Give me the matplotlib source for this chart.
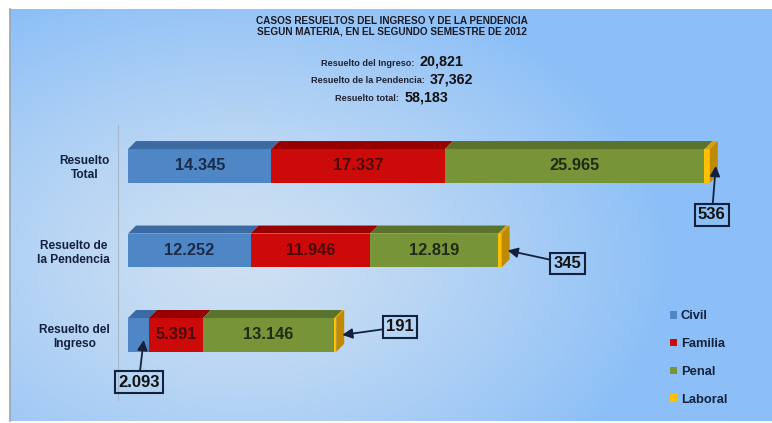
import matplotlib
matplotlib.use("Agg")
import matplotlib.pyplot as plt
import numpy as np
from matplotlib.patches import Polygon
from matplotlib.lines import Line2D
from matplotlib.offsetbox import TextArea, HPacker, AnnotationBbox

# datos
categorias = ["Resuelto del\nIngreso", "Resuelto de\nla Pendencia", "Resuelto\nTotal"]
materias = ["Civil", "Familia", "Penal", "Laboral"]
civil = [2093, 12252, 14345]
familia = [5391, 11946, 17337]
penal = [13146, 12819, 25965]
laboral = [191, 345, 536]

titulo = ("CASOS RESUELTOS DEL INGRESO Y DE LA PENDENCIA\n"
          "SEGUN MATERIA, EN EL SEGUNDO SEMESTRE DE 2012")
resumen_etiquetas = ["Resuelto del Ingreso:", "Resuelto de la Pendencia:", "Resuelto total:"]
resumen_valores = ["20,821", "37,362", "58,183"]

# estilo
FONT = "Liberation Sans"
plt.rcParams["font.family"] = [FONT, "DejaVu Sans"]
col_frente = ["#4f86c6", "#cc0a0a", "#779438", "#ffc000"]
col_arriba = ["#3c6aa3", "#980000", "#5a722b", "#d9a200"]
col_lado = "#c08a00"
col_texto = ["#1c2b4a", "#4a0808", "#1f2b14"]
navy = "#14213d"
alto = 0.40
dx = 800      # profundidad en unidades de x
dy = 0.095    # profundidad en unidades de y

W, H = 772, 423
fig = plt.figure(figsize=(W / 100, H / 100), dpi=100)
fig.patch.set_facecolor("white")

# fondo degradado
bg = fig.add_axes([10 / W, 2 / H, 762 / W, 412 / H])
bg.set_axis_off()
yy, xx = np.mgrid[0:412, 0:762]
t = np.sqrt(((xx - 230) / 430.0) ** 2 + ((yy - 250) / 290.0) ** 2)
t = np.clip(t, 0, 1) ** 1.3
claro = np.array([0.81, 0.88, 0.95])
borde = np.array([0.55, 0.75, 0.97])
img = claro[None, None, :] * (1 - t[..., None]) + borde[None, None, :] * t[..., None]
bg.imshow(img, aspect="auto", interpolation="bilinear")
fig.add_artist(Line2D([10 / W, 10 / W], [2 / H, 1 - 9 / H], color="#9aa4ae", lw=1.2))

# ejes principales
ax = fig.add_axes([118 / W, 1 - 400 / H, (760 - 118) / W, (400 - 125) / H])
ax.patch.set_alpha(0)
ax.set_xlim(-1000, 63200)
ax.set_ylim(-0.77, 2.485)
for s in ["top", "right", "bottom"]:
    ax.spines[s].set_visible(False)
ax.spines["left"].set_color("#aab8c6")
ax.spines["left"].set_linewidth(0.8)
ax.set_xticks([])
ax.set_yticks(range(len(categorias)), categorias)
ax.tick_params(axis="y", length=0, pad=6)
for lbl in ax.get_yticklabels():
    lbl.set_multialignment("center")
    lbl.set_fontsize(8.6)
    lbl.set_fontweight("bold")
    lbl.set_color(navy)

series = [civil, familia, penal, laboral]
y = np.arange(len(categorias))
izq = np.zeros(len(categorias))
barras = []
for i, vals in enumerate(series):
    b = ax.barh(y, vals, left=izq, height=alto, color=col_frente[i], zorder=2,
                label=materias[i])
    barras.append(b)
    for j, v in enumerate(vals):
        l, r = izq[j], izq[j] + v
        top = y[j] + alto / 2
        ax.add_patch(Polygon([(l, top), (l + dx, top + dy), (r + dx, top + dy), (r, top)],
                             closed=True, color=col_arriba[i], zorder=2, lw=0))
        if i < 3 and v >= 4000:
            ax.text(l + v / 2, y[j], f"{v:,}".replace(",", "."), ha="center", va="center",
                    fontsize=11.8, fontweight="bold", color=col_texto[i], zorder=4)
    izq = izq + np.array(vals)

# cara lateral al final de cada barra
for j in range(len(categorias)):
    e = izq[j]
    bot, top = y[j] - alto / 2, y[j] + alto / 2
    ax.add_patch(Polygon([(e, bot), (e, top), (e + dx, top + dy), (e + dx, bot + dy)],
                         closed=True, color=col_lado, zorder=2, lw=0))

# recuadros con flecha para valores pequeños
llamadas = [
    (0, 0, (-5, -42)),
    (3, 0, (58, 8)),
    (3, 1, (60, -13)),
    (3, 2, (-4, -49)),
]
for i, j, off in llamadas:
    v = series[i][j]
    if i == 0:
        xy = (v * 0.75, y[j] - 0.06)
    else:
        xy = (izq[j] + 600, y[j])
    ax.annotate(f"{v:,}".replace(",", "."), xy=xy, xytext=off, textcoords="offset pixels",
                ha="center", va="center", fontsize=12, fontweight="bold", color="#111111",
                bbox=dict(boxstyle="square,pad=0.2", fc="none", ec=navy, lw=1.5),
                arrowprops=dict(arrowstyle="-|>,head_length=0.5,head_width=0.25",
                                color=navy, lw=1.3, shrinkA=0, shrinkB=0),
                zorder=5)

# leyenda
leg = ax.legend(handles=barras, labels=materias, loc="upper left",
                bbox_to_anchor=(664 / W, 1 - 304 / H), bbox_transform=fig.transFigure,
                frameon=False, borderpad=0, handlelength=0.5, handleheight=0.5,
                handletextpad=0.3, labelspacing=1.22,
                prop={"family": FONT, "weight": "bold", "size": 9.3})
for txt in leg.get_texts():
    txt.set_color(navy)

# titulo
fig.text(392 / W, 1 - 26 / H, titulo, ha="center", va="center", fontsize=7.2,
         fontweight="bold", color="#1a1a26", linespacing=1.1)

# resumen
for k, (et, val) in enumerate(zip(resumen_etiquetas, resumen_valores)):
    caja = HPacker(children=[
        TextArea(et, textprops=dict(size=6.6, weight="bold", color="#222232", family=FONT)),
        TextArea(val, textprops=dict(size=10.3, weight="bold", color="#111111", family=FONT)),
    ], align="baseline", pad=0, sep=4)
    ab = AnnotationBbox(caja, (392 / W, 1 - [62, 79, 97][k] / H), xycoords="figure fraction",
                        frameon=False, box_alignment=(0.5, 0.5))
    fig.add_artist(ab)

fig.savefig("out.png", dpi=100)
